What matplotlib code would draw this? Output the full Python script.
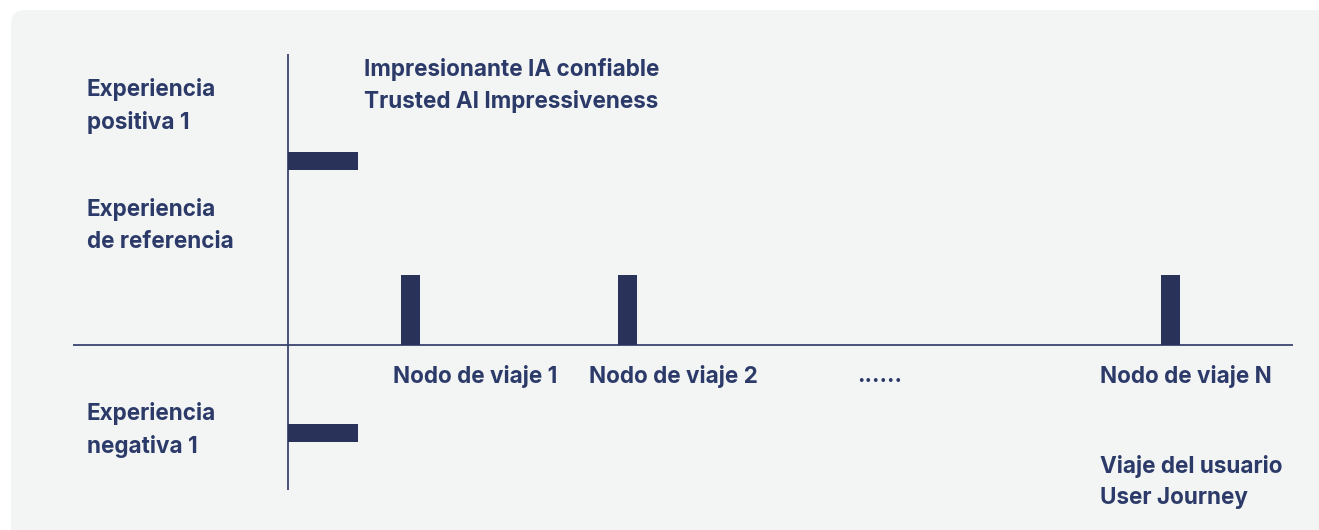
import matplotlib
matplotlib.use("Agg")
import matplotlib.pyplot as plt
from matplotlib.patches import FancyBboxPatch

# ---- data ----
node_labels = ["Nodo de viaje 1", "Nodo de viaje 2", "......", "Nodo de viaje N"]
node_pos = [0.565, 1.565, 2.72, 4.065]
node_values = [1.0, 1.0, None, 1.0]

level_labels = ["Experiencia\npositiva 1", "Experiencia\nde referencia", "Experiencia\nnegativa 1"]
level_y = [3.41, 1.71, -1.22]

exp_bar_y = [2.63, -1.26]
exp_bar_len = [0.3226, 0.3226]

title_text = "Impresionante IA confiable\nTrusted AI Impressiveness"
xaxis_text = "Viaje del usuario\nUser Journey"

# ---- styles ----
BAR = "#29335a"
TXT = "#2b3a68"
LINE = "#3a4470"
PANEL = "#f3f4f4"
FONT = dict(family=["Inter", "DejaVu Sans"], fontweight="bold", fontsize=16.2, color=TXT)
LS = 1.555

W, H = 1319, 530
fig = plt.figure(figsize=(W / 100, H / 100), dpi=100)
fig.patch.set_facecolor("white")

# background panel in pixel coords
bg = fig.add_axes([0, 0, 1, 1])
bg.set_xlim(0, W); bg.set_ylim(H, 0); bg.axis("off")
bg.add_patch(FancyBboxPatch((11, 10), W + 50, H, boxstyle="round,pad=0,rounding_size=14",
                            facecolor=PANEL, edgecolor="none"))

ax = fig.add_axes([0, 0, 1, 1])
ax.patch.set_alpha(0)
ax.axis("off")
ax.set_xlim(-288 / 217, (W - 288) / 217)
ax.set_ylim((345 - H) / 70, 345 / 70)

# axes lines
ax.plot([0, 0], [-2.071, 4.157], color=LINE, lw=1.3, solid_capstyle="butt")
ax.plot([-0.991, 4.631], [0, 0], color=LINE, lw=1.3, solid_capstyle="butt")

# node bars
for x, v in zip(node_pos, node_values):
    if v is not None:
        ax.bar(x, v, width=19 / 217, bottom=0, color=BAR, align="center", zorder=3)

# experience bars
ax.barh(exp_bar_y, exp_bar_len, height=18 / 70, left=0, color=BAR, zorder=3)

# node labels
label_x = [393, 589, 857, 1100]
for lx, lab in zip(label_x, node_labels):
    ax.text((lx - 288) / 217, (345 - 376) / 70, lab, ha="left", va="center", **FONT)

for lab, y in zip(level_labels, level_y):
    ax.text((87 - 288) / 217, y, lab, ha="left", va="center", linespacing=LS, **FONT)

ax.text((364 - 288) / 217, (345 - 85.5) / 70, title_text, ha="left", va="center", linespacing=LS, **FONT)
ax.text((1100 - 288) / 217, (345 - 482) / 70, xaxis_text, ha="left", va="center", linespacing=LS, **FONT)

fig.savefig("out.png", dpi=100, facecolor="white")
